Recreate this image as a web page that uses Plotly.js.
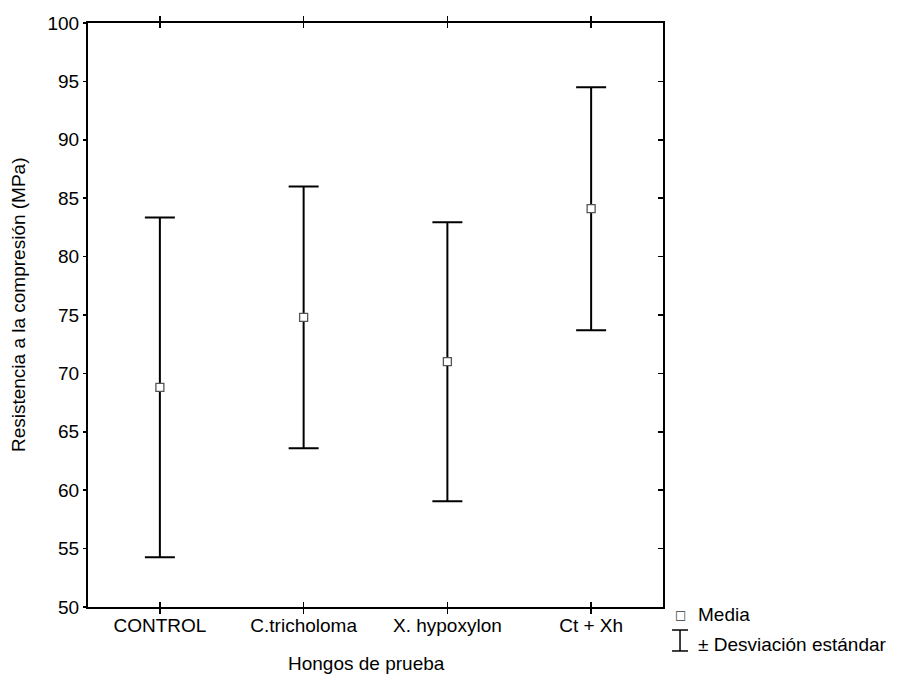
<!DOCTYPE html>
<html>
<head>
<meta charset="utf-8">
<script src="https://cdn.plot.ly/plotly-3.0.1.min.js"></script>
<style>html,body{margin:0;padding:0;background:#fff;}#chart{width:900px;height:677px;}</style>
</head>
<body>
<div id="chart"></div>
<script>
var categories = ["CONTROL", "C.tricholoma", "X. hypoxylon", "Ct + Xh"];
var means = [68.8, 74.8, 71.0, 84.1];
var stdDevs = [14.55, 11.2, 11.95, 10.4];
var yTickVals = [50, 55, 60, 65, 70, 75, 80, 85, 90, 95, 100];
var xTitle = "Hongos de prueba";
var yTitle = "Resistencia a la compresión (MPa)";
var legendLabels = ["Media", "± Desviación estándar"];

var FONT = "Liberation Sans, Arial, sans-serif";
var FS = 19;

var traces = [
  {
    type: "scatter",
    mode: "markers",
    x: categories,
    y: means,
    error_y: {type: "data", array: stdDevs, visible: true, color: "#000", thickness: 2, width: 15},
    marker: {symbol: "square", size: 8, color: "#fff", line: {color: "#555", width: 1.3}},
    showlegend: false,
    hoverinfo: "skip"
  },
  {
    type: "scatter",
    mode: "markers",
    x: categories,
    y: means,
    yaxis: "y2",
    marker: {opacity: 0},
    showlegend: false,
    hoverinfo: "skip"
  }
];

var layout = {
  width: 900,
  height: 677,
  paper_bgcolor: "#fff",
  plot_bgcolor: "#fff",
  margin: {l: 88, r: 237, t: 23, b: 70},
  font: {family: FONT, size: FS, color: "#000"},
  showlegend: false,
  xaxis: {
    type: "category",
    range: [-0.5, 3.5],
    showline: true, linecolor: "#000", linewidth: 2, mirror: "allticks",
    ticks: "inside", ticklen: 5, tickwidth: 1.5, tickcolor: "#000",
    showgrid: false, zeroline: false,
    tickfont: {family: FONT, size: FS, color: "#000"}
  },
  yaxis: {
    range: [50, 100],
    tickvals: yTickVals,
    showline: true, linecolor: "#000", linewidth: 2, mirror: true,
    ticks: "outside", ticklen: 3, tickwidth: 1.5, tickcolor: "#000",
    showgrid: false, zeroline: false,
    tickfont: {family: FONT, size: FS, color: "#000"}
  },
  yaxis2: {
    overlaying: "y",
    side: "right",
    range: [50, 100],
    tickvals: yTickVals,
    showticklabels: false,
    showline: false,
    ticks: "inside", ticklen: 5, tickwidth: 1.5, tickcolor: "#000",
    showgrid: false, zeroline: false
  },
  shapes: [
    {type: "line", xref: "paper", yref: "paper", x0: 1.0296, x1: 1.0296, y0: -0.0394, y1: -0.0753, line: {color: "#000", width: 1.5}},
    {type: "line", xref: "paper", yref: "paper", x0: 1.0157, x1: 1.0435, y0: -0.0394, y1: -0.0394, line: {color: "#000", width: 1.5}},
    {type: "line", xref: "paper", yref: "paper", x0: 1.0157, x1: 1.0435, y0: -0.0753, y1: -0.0753, line: {color: "#000", width: 1.5}}
  ],
  annotations: [
    {xref: "paper", yref: "paper", x: 0.4835, y: -0.0959, text: xTitle, showarrow: false, xanchor: "center", yanchor: "middle", font: {family: FONT, size: FS, color: "#000"}},
    {xref: "paper", yref: "paper", x: -0.1217, y: 0.517, text: yTitle, textangle: -90, showarrow: false, xanchor: "center", yanchor: "middle", font: {family: FONT, size: FS, color: "#000"}},
    {xref: "paper", yref: "paper", x: 1.0296, y: -0.0135, text: "□", showarrow: false, xanchor: "center", yanchor: "middle", font: {family: "DejaVu Sans", size: 12, color: "#333"}},
    {xref: "paper", yref: "paper", x: 1.0574, y: -0.0135, text: legendLabels[0], showarrow: false, xanchor: "left", yanchor: "middle", font: {family: FONT, size: FS, color: "#000"}},
    {xref: "paper", yref: "paper", x: 1.0574, y: -0.065, text: legendLabels[1], showarrow: false, xanchor: "left", yanchor: "middle", font: {family: FONT, size: FS, color: "#000"}}
  ]
};

Plotly.newPlot("chart", traces, layout, {displayModeBar: false, staticPlot: true});
</script>
</body>
</html>
